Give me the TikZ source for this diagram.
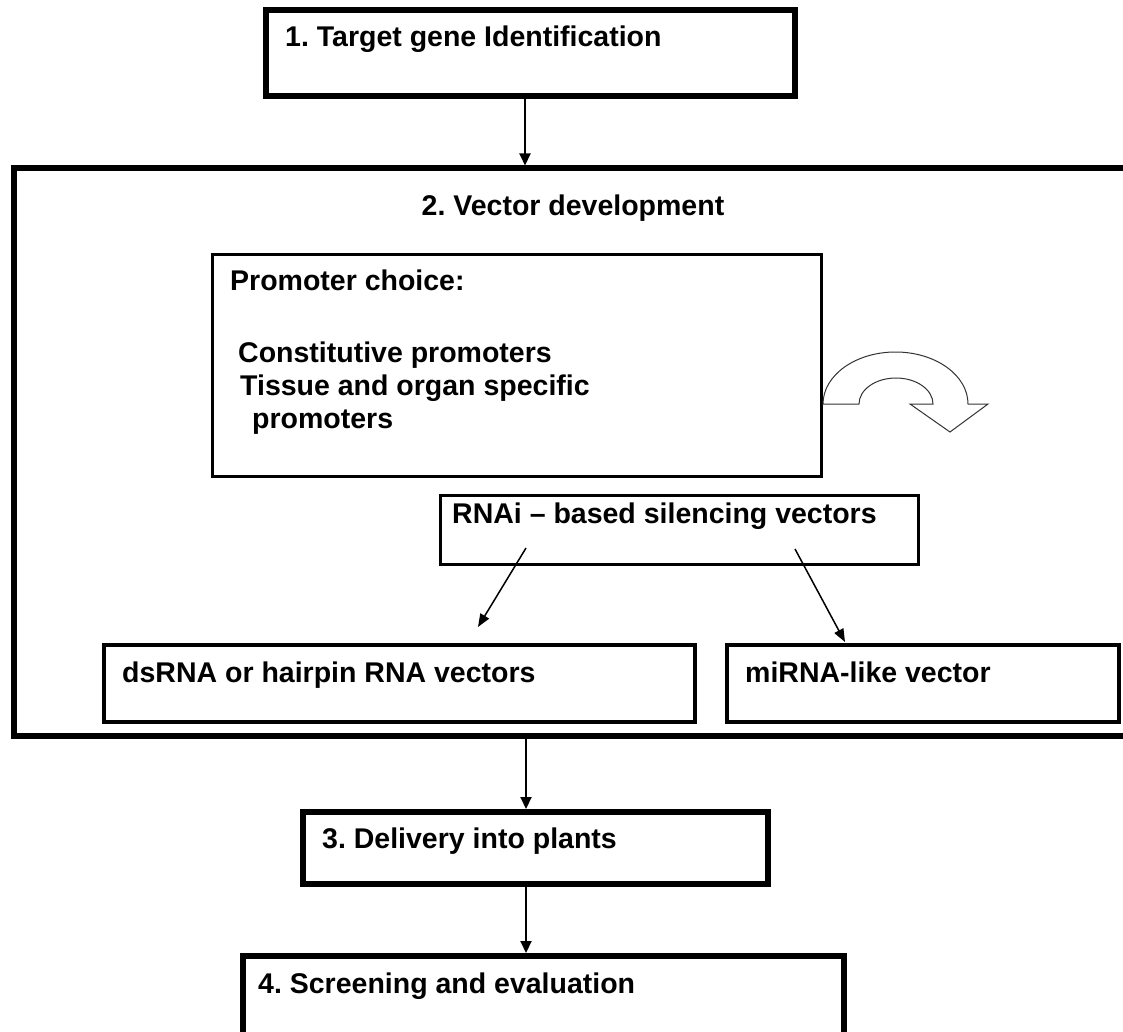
\documentclass[tikz,border=0pt]{standalone}
\usepackage{fontspec}
\setmainfont{Liberation Sans}
\usetikzlibrary{arrows.meta}
\frenchspacing
\begin{document}
\begin{tikzpicture}[x=1pt,y=-1pt,
  box/.style={draw=black,rectangle,inner sep=0pt,outer sep=0pt,fill=none},
  thickbox/.style={box,line width=6pt},
  midbox/.style={box,line width=4pt},
  thinbox/.style={box,line width=3pt},
  lbl/.style={anchor=base west,inner sep=0pt,font=\fontsize{28.5}{33}\selectfont\bfseries},
  conn/.style={line width=2pt,-{Triangle[length=12pt,width=11pt]}},
  thinconn/.style={line width=1.5pt,-{Triangle[length=13pt,width=10pt]}}
]
\useasboundingbox (0,0) rectangle (1123,1032);
\clip (0,0) rectangle (1123,1032);

% boxes
\node[thickbox,minimum width=529pt,minimum height=86pt] (b1) at (530.5,53) {};
\node[thickbox,minimum width=1136.5pt,minimum height=567.5pt] (big) at (581.75,452.25) {};
\node[thinbox,minimum width=609pt,minimum height=222pt] (prom) at (517,365.5) {};
\node[thinbox,minimum width=478pt,minimum height=69pt] (rnai) at (679.5,530) {};
\node[midbox,minimum width=591pt,minimum height=77pt] (ds) at (399.5,683.5) {};
\node[midbox,minimum width=392pt,minimum height=77pt] (mi) at (923,683.5) {};
\node[thickbox,minimum width=465pt,minimum height=72pt] (b3) at (535.5,848) {};
\node[thickbox,minimum width=601pt,minimum height=144pt] (b4) at (543.5,1028) {};

% texts
\node[lbl] (t1) at (285,47) {1. Target gene Identification};
\node[lbl,anchor=base] (t2) at (573,215) {2. Vector development};
\node[lbl] (tp1) at (230,290) {Promoter choice:};
\node[lbl] (tp2) at (238,362) {Constitutive promoters};
\node[lbl] (tp3) at (240,395) {Tissue and organ specific};
\node[lbl] (tp4) at (252,428) {promoters};
\node[lbl] (tr) at (452,523) {RNAi -- based silencing vectors};
\node[lbl] (tds) at (122,682) {dsRNA or hairpin RNA vectors};
\node[lbl] (tmi) at (745,682) {miRNA-like vector};
\node[lbl] (t3) at (322,848) {3. Delivery into plants};
\node[lbl] (t4) at (258,993) {4. Screening and evaluation};

% connectors
\coordinate (ax) at (525,0);
\coordinate (bx) at (526,0);
\draw[conn] (b1.south -| ax) -- ([yshift=3pt]big.north -| ax);
\draw[conn] ([yshift=-3pt]big.south -| bx) -- ([yshift=3pt]b3.north -| bx);
\draw[conn] ([yshift=-3pt]b3.south -| bx) -- ([yshift=3pt]b4.north -| bx);
\coordinate (l1) at (526,548);
\coordinate (l2) at (478,627);
\coordinate (r1) at (795,549);
\coordinate (r2) at (845,642);
\draw[thinconn] (l1) -- (l2);
\draw[thinconn] (r1) -- (r2);

% curved block arrow
\draw[fill=white,draw=black!80,line width=1pt]
  (823,404) arc[start angle=180,end angle=360,x radius=72.5,y radius=52]
  -- (988,404) -- (950,432) -- (910,404) -- (933,404)
  arc[start angle=360,end angle=180,x radius=37,y radius=26]
  -- cycle;
\end{tikzpicture}
\end{document}
